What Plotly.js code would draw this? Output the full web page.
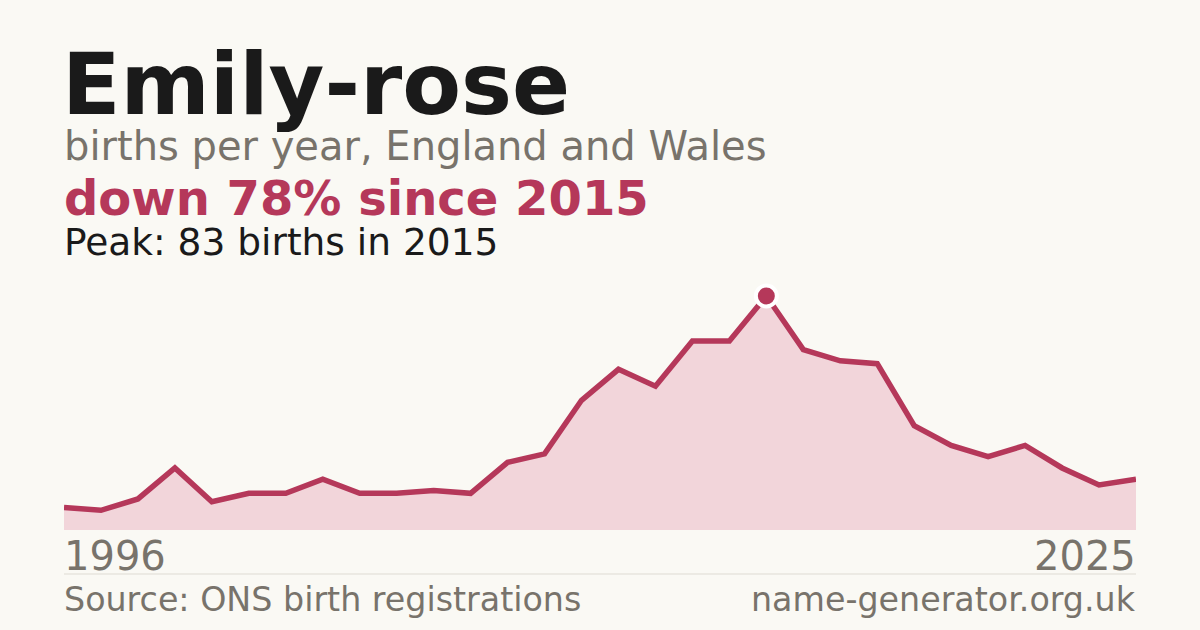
<!DOCTYPE html>
<html>
<head>
<meta charset="utf-8">
<script src="https://cdn.plot.ly/plotly-3.0.1.min.js"></script>
<style>
  html, body { margin: 0; padding: 0; background: #faf9f4; }
  #chart { width: 1200px; height: 630px; }
</style>
</head>
<body>
<div id="chart"></div>
<script>
// Births per year for the name, 1996 - 2025
const years = [
  1996, 1997, 1998, 1999, 2000, 2001, 2002, 2003, 2004, 2005,
  2006, 2007, 2008, 2009, 2010, 2011, 2012, 2013, 2014, 2015,
  2016, 2017, 2018, 2019, 2020, 2021, 2022, 2023, 2024, 2025,
];
const births = [
  8, 7, 11, 22, 10, 13, 13, 18, 13, 13,
  14, 13, 24, 27, 46, 57, 51, 67, 67, 83,
  64, 60, 59, 37, 30, 26, 30, 22, 16, 18,
];
const name_label = 'Emily-rose';
const subtitle = 'births per year, England and Wales';
const source_label = 'Source: ONS birth registrations';
const site_label = 'name-generator.org.uk';

const RED = '#b5385a';
const GRAY = '#78736b';
const INK = '#1a1a1a';
const BG = '#faf9f4';

// plot box in page pixels
const PLOT_L = 64, PLOT_R = 1136, PLOT_T = 100, PLOT_B = 530;
const px = (x) => (x - PLOT_L) / (PLOT_R - PLOT_L);
const py = (y) => (PLOT_B - y) / (PLOT_B - PLOT_T);

var peak_index = births.indexOf(Math.max(...births));
var peak_year = years[peak_index];
var peak_value = births[peak_index];
var last_value = births[births.length - 1];
var change = Math.round((1 - last_value / peak_value) * 100);

var chart_data = [
  {
    x: years,
    y: births,
    type: 'scatter',
    mode: 'lines',
    fill: 'tozeroy',
    fillcolor: '#f2d5da',
    line: { color: RED, width: 5.5 },
    hoverinfo: 'skip',
  },
  // Peak marker, white ring cuts the line around it
  {
    x: [peak_year],
    y: [peak_value],
    type: 'scatter',
    mode: 'markers',
    marker: { color: RED, size: 21, line: { color: '#ffffff', width: 4 } },
    cliponaxis: false,
    hoverinfo: 'skip',
  },
];

function label(text, x, y, size, color, opts) {
  return Object.assign(
    {
      text: text,
      xref: 'paper',
      yref: 'paper',
      x: px(x),
      y: py(y),
      xanchor: 'left',
      yanchor: 'middle',
      showarrow: false,
      font: { family: 'DejaVu Sans', size: size, color: color },
    },
    opts || {}
  );
}

var chart_layout = {
  width: 1200,
  height: 630,
  paper_bgcolor: BG,
  plot_bgcolor: BG,
  showlegend: false,
  margin: { l: PLOT_L, r: 1200 - PLOT_R, t: PLOT_T, b: 630 - PLOT_B },
  xaxis: {
    range: [years[0], years[years.length - 1]],
    visible: false,
    fixedrange: true,
  },
  yaxis: {
    range: [0, 152.5],
    visible: false,
    fixedrange: true,
  },
  shapes: [
    {
      type: 'line',
      xref: 'paper',
      yref: 'paper',
      x0: 0,
      x1: 1,
      y0: py(574),
      y1: py(574),
      line: { color: '#dedbd3', width: 1 },
    },
  ],
  annotations: [
    label('<b>' + name_label + '</b>', 60, 84, 85.7, INK),
    label(subtitle, 62, 146, 40, GRAY),
    label('<b>down ' + change + '% since ' + peak_year + '</b>', 62, 198, 48, RED),
    label('Peak: ' + peak_value + ' births in ' + peak_year, 62, 242, 37.5, INK),
    label(String(years[0]), 62, 556, 40, GRAY),
    label(String(years[years.length - 1]), 1138, 556, 40, GRAY, { xanchor: 'right' }),
    label(source_label, 62, 599, 33.3, GRAY),
    label(site_label, 1138, 599, 33.3, GRAY, { xanchor: 'right' }),
  ],
};

Plotly.newPlot('chart', chart_data, chart_layout, { staticPlot: true });
</script>
</body>
</html>
